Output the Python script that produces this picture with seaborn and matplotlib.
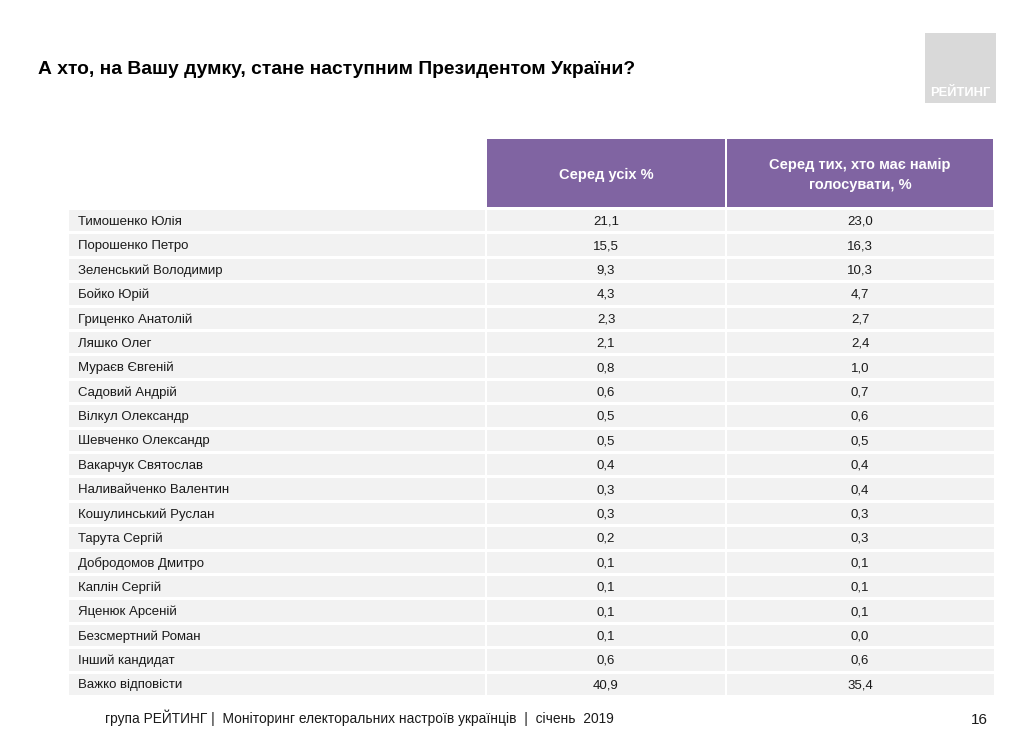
import matplotlib
matplotlib.use("Agg")
import matplotlib.pyplot as plt
from matplotlib.colors import ListedColormap
from matplotlib.patches import Rectangle
import seaborn as sns
import numpy as np

sns.set_theme(style="white")
plt.rcParams["font.family"] = ["Liberation Sans Narrow", "Liberation Sans", "DejaVu Sans"]

# ── Data ──────────────────────────────────────────────────────────────────────
TITLE = "А хто, на Вашу думку, стане наступним Президентом України?"
COL_HEADERS = ["Серед усіх %", "Серед тих, хто має намір\nголосувати, %"]
CANDIDATES = [
    "Тимошенко Юлія", "Порошенко Петро", "Зеленський Володимир", "Бойко Юрій",
    "Гриценко Анатолій", "Ляшко Олег", "Мураєв Євгеній", "Садовий Андрій",
    "Вілкул Олександр", "Шевченко Олександр", "Вакарчук Святослав",
    "Наливайченко Валентин", "Кошулинський Руслан", "Тарута Сергій",
    "Добродомов Дмитро", "Каплін Сергій", "Яценюк Арсеній", "Безсмертний Роман",
    "Інший кандидат", "Важко відповісти",
]
ALL_PCT = [21.1, 15.5, 9.3, 4.3, 2.3, 2.1, 0.8, 0.6, 0.5, 0.5,
           0.4, 0.3, 0.3, 0.2, 0.1, 0.1, 0.1, 0.1, 0.6, 40.9]
VOTERS_PCT = [23.0, 16.3, 10.3, 4.7, 2.7, 2.4, 1.0, 0.7, 0.6, 0.5,
              0.4, 0.4, 0.3, 0.3, 0.1, 0.1, 0.1, 0.0, 0.6, 35.4]
FOOTER = "група РЕЙТИНГ |  Моніторинг електоральних настроїв українців  |  січень  2019"
PAGE = "16"
LOGO = "РЕЙТИНГ"

# ── Layout helpers (pixel -> figure fraction) ────────────────────────────────
W, H = 1024, 732
fig = plt.figure(figsize=(W / 100, H / 100), dpi=100)
fig.patch.set_facecolor("white")


def px_axes(x0, y0, x1, y1):
    return fig.add_axes([x0 / W, 1 - y1 / H, (x1 - x0) / W, (y1 - y0) / H])


def fx(x):
    return x / W


def fy(y):
    return 1 - y / H


CELL = "#f2f2f2"
PURPLE = "#8064a2"
TEXT = "#1a1a1a"
cmap_cell = ListedColormap([CELL])

# ── Title & logo ──────────────────────────────────────────────────────────────
fig.text(fx(38), fy(70), TITLE, fontsize=13.9, fontweight="bold", color="black",
         ha="left", va="center")
fig.patches.append(Rectangle((fx(925), fy(103)), (996 - 925) / W, (103 - 33) / H,
                             transform=fig.transFigure, facecolor="#d9d9d9",
                             edgecolor="none"))
fig.text(fx(960), fy(93), LOGO, fontsize=9.3, fontweight="bold", color="white",
         ha="center", va="center")

# ── Header cells ──────────────────────────────────────────────────────────────
col_bounds = [(486, 726), (726, 994)]
for (x0, x1), label in zip(col_bounds, COL_HEADERS):
    fig.patches.append(Rectangle((fx(x0 + 1), fy(207)), (x1 - x0 - 2) / W, (207 - 139) / H,
                                 transform=fig.transFigure, facecolor=PURPLE,
                                 edgecolor="none"))
    fig.text(fx((x0 + x1) / 2), fy(175), label, fontsize=10.5, fontweight="bold",
             color="white", ha="center", va="center", linespacing=1.6)

# ── Name column ───────────────────────────────────────────────────────────────
n = len(CANDIDATES)
ax_names = px_axes(67, 208, 487, 696)
sns.heatmap(np.zeros((n, 1)), ax=ax_names, cmap=cmap_cell, cbar=False,
            linewidths=2, linecolor="white", xticklabels=False, yticklabels=False)
for i, name in enumerate(CANDIDATES):
    ax_names.text(0.025, i + 0.5, name, fontsize=9.5, color=TEXT,
                  ha="left", va="center_baseline")

# ── Value columns ─────────────────────────────────────────────────────────────
for (x0, x1), series in zip(col_bounds, [ALL_PCT, VOTERS_PCT]):
    vals = np.array(series).reshape(-1, 1)
    labels = np.array([[f"{v:.1f}".replace(".", ",")] for v in series])
    ax = px_axes(x0 - 1, 208, x1 + 1, 696)
    sns.heatmap(vals, ax=ax, cmap=cmap_cell, cbar=False, annot=labels, fmt="",
                annot_kws={"fontsize": 9.5, "color": TEXT, "va": "center_baseline"},
                linewidths=2, linecolor="white", xticklabels=False, yticklabels=False)

# ── Footer ────────────────────────────────────────────────────────────────────
fig.text(fx(105), fy(718), FOOTER, fontsize=9.9, color=TEXT, ha="left", va="center")
fig.text(fx(988), fy(720), PAGE, fontsize=11, color=TEXT, ha="right", va="center")

fig.savefig("out.png", dpi=100, facecolor="white")
